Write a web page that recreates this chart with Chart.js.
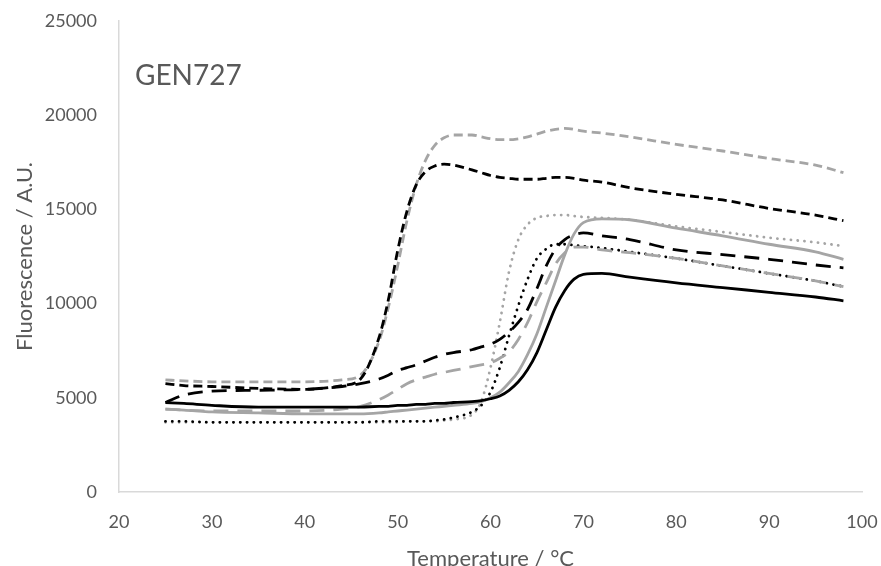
<!DOCTYPE html>
<html>
<head>
<meta charset="utf-8">
<script src="https://cdn.jsdelivr.net/npm/chart.js@4/dist/chart.umd.min.js"></script>
<style>
  html, body { margin: 0; padding: 0; background: #fff; }
  canvas { display: block; }
</style>
</head>
<body>
<canvas id="meltChart" width="881" height="566"></canvas>
<script>
// temperature grid (°C) shared by all traces
const temps = [25, 27, 30, 35, 40, 44, 46, 48, 49, 50, 51, 52, 53, 54, 55, 56, 58, 59, 60, 61, 62, 63, 64, 65, 66, 67, 68, 69, 70, 72, 75, 80, 85, 90, 95, 98];

// fluorescence traces (A.U.)
const greyShortDash = [5950, 5900, 5850, 5850, 5850, 5950, 6200, 8000, 9800, 12000, 14400, 16300, 17600, 18400, 18800, 18950, 18950, 18850, 18750, 18700, 18700, 18750, 18850, 19000, 19150, 19250, 19300, 19250, 19150, 19050, 18850, 18450, 18100, 17700, 17350, 16950];
const blackShortDash = [5750, 5650, 5600, 5500, 5450, 5650, 6000, 8200, 10200, 12800, 14900, 16300, 17000, 17300, 17400, 17350, 17100, 16950, 16800, 16700, 16650, 16600, 16600, 16600, 16650, 16700, 16700, 16650, 16550, 16450, 16150, 15800, 15500, 15050, 14700, 14400];
const greyDotted = [3700, 3700, 3700, 3700, 3700, 3700, 3700, 3700, 3700, 3700, 3750, 3750, 3750, 3750, 3800, 3850, 4100, 4800, 6600, 9000, 11700, 13400, 14200, 14550, 14650, 14700, 14700, 14650, 14600, 14550, 14450, 14100, 13800, 13500, 13250, 13050];
const blackDotted = [3750, 3750, 3700, 3700, 3700, 3700, 3700, 3750, 3750, 3750, 3750, 3750, 3750, 3800, 3850, 3950, 4250, 4600, 5300, 6600, 8300, 9900, 11300, 12400, 12900, 13150, 13150, 13100, 13050, 12950, 12750, 12400, 12000, 11600, 11200, 10900];
const greySolid = [4400, 4350, 4250, 4200, 4150, 4150, 4150, 4200, 4250, 4300, 4350, 4400, 4450, 4500, 4550, 4600, 4700, 4800, 5000, 5300, 5800, 6400, 7300, 8400, 9800, 11200, 12600, 13700, 14300, 14500, 14450, 14000, 13600, 13150, 12750, 12350];
const blackSolid = [4750, 4700, 4600, 4500, 4500, 4500, 4500, 4550, 4550, 4600, 4600, 4650, 4650, 4700, 4700, 4750, 4800, 4850, 4950, 5100, 5400, 5850, 6500, 7400, 8600, 9800, 10700, 11300, 11550, 11600, 11400, 11100, 10850, 10600, 10350, 10150];
const greyLongDash = [4400, 4350, 4300, 4300, 4300, 4400, 4550, 4900, 5150, 5450, 5750, 5950, 6100, 6250, 6350, 6450, 6650, 6750, 6850, 7100, 7450, 8100, 9000, 10100, 11100, 12100, 12700, 13000, 13000, 12850, 12700, 12400, 12000, 11600, 11200, 10900];
const blackLongDash = [4750, 5150, 5350, 5400, 5450, 5600, 5750, 6000, 6200, 6450, 6600, 6750, 6950, 7150, 7300, 7400, 7550, 7700, 7850, 8100, 8500, 9000, 9700, 10800, 12000, 12900, 13400, 13650, 13750, 13600, 13400, 12850, 12600, 12350, 12050, 11900];

const xTicks = [20, 30, 40, 50, 60, 70, 80, 90, 100];
const yTicks = [0, 5000, 10000, 15000, 20000, 25000];

const GREY = '#a5a5a5';
const BLACK = '#000000';
const TEXT = '#595959';

const toPoints = values => temps.map((t, i) => ({ x: t, y: values[i] }));

function trace(values, color, dash, cap) {
    return {
        data: toPoints(values),
        borderColor: color,
        borderWidth: 2.8,
        borderDash: dash,
        borderCapStyle: cap || 'butt',
        pointRadius: 0,
        fill: false,
        cubicInterpolationMode: 'monotone'
    };
}

const panelLabel = {
    id: 'panelLabel',
    afterDraw(chart) {
        const ctx = chart.ctx;
        ctx.save();
        ctx.font = '28px Lato';
        ctx.fillStyle = TEXT;
        ctx.textAlign = 'left';
        ctx.textBaseline = 'middle';
        ctx.fillText('GEN727', 135, 76);
        ctx.restore();
    }
};

const ctx = document.getElementById('meltChart').getContext('2d');
new Chart(ctx, {
    type: 'line',
    data: {
        datasets: [
            trace(blackSolid, BLACK, []),
            trace(greySolid, GREY, []),
            trace(greyLongDash, GREY, [15, 9]),
            trace(blackLongDash, BLACK, [15, 9]),
            trace(blackDotted, BLACK, [0.1, 6.7], 'round'),
            trace(greyDotted, GREY, [0.1, 6.7], 'round'),
            trace(blackShortDash, BLACK, [9, 5]),
            trace(greyShortDash, GREY, [9, 5])
        ]
    },
    options: {
        responsive: false,
        animation: false,
        devicePixelRatio: 1,
        layout: { padding: { top: 21, right: 19, left: 0, bottom: 0 } },
        plugins: {
            legend: { display: false },
            tooltip: { enabled: false }
        },
        scales: {
            x: {
                type: 'linear',
                min: 20,
                max: 100,
                afterFit: scale => {
                    scale.height = 74;
                    scale.paddingLeft = 0;
                    scale.paddingRight = 0;
                },
                afterBuildTicks: scale => { scale.ticks = xTicks.map(v => ({ value: v })); },
                grid: { display: false },
                border: { display: true, color: '#d9d9d9', width: 1.5 },
                ticks: {
                    padding: 11, color: TEXT, font: { family: 'Lato', size: 18 }, maxRotation: 0,
                    callback: v => String(v)
                },
                title: {
                    display: true,
                    text: 'Temperature / °C',
                    color: TEXT,
                    font: { family: 'Lato', size: 22, lineHeight: 0.6 },
                    padding: { top: 0, bottom: 0 }
                }
            },
            y: {
                min: 0,
                max: 25000,
                afterFit: scale => {
                    scale.width = 119;
                    scale.paddingTop = 0;
                    scale.paddingBottom = 0;
                },
                afterBuildTicks: scale => { scale.ticks = yTicks.map(v => ({ value: v })); },
                grid: { display: false },
                border: { display: true, color: '#d9d9d9', width: 1.5 },
                ticks: {
                    padding: 14, color: TEXT, font: { family: 'Lato', size: 18 },
                    callback: v => String(v)
                },
                title: {
                    display: true,
                    text: 'Fluorescence / A.U.',
                    color: TEXT,
                    font: { family: 'Lato', size: 22, lineHeight: 0.6 },
                    padding: { top: 18, bottom: 0 }
                }
            }
        }
    },
    plugins: [panelLabel]
});
</script>
</body>
</html>
